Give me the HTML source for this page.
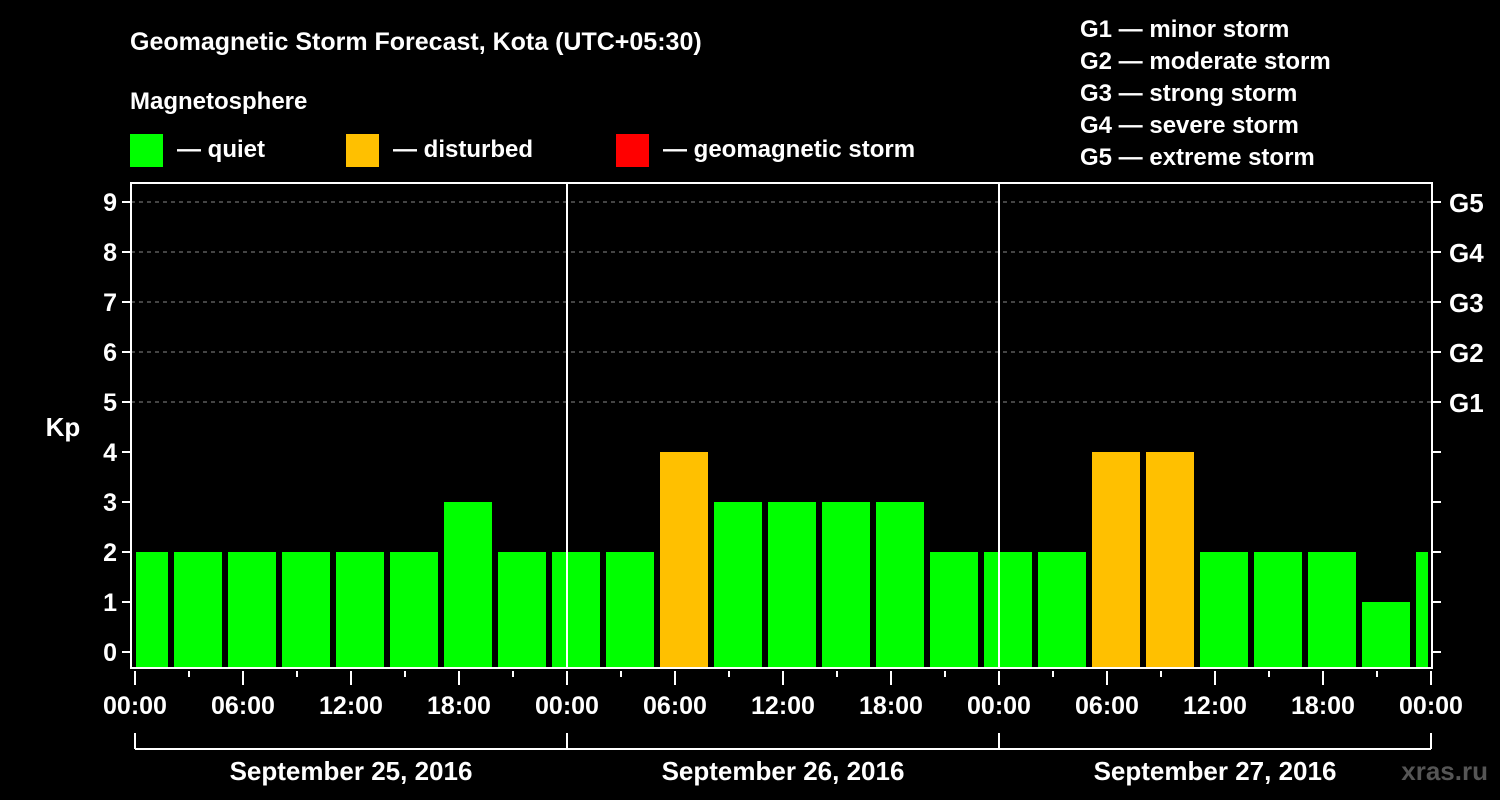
<!DOCTYPE html>
<html><head><meta charset="utf-8"><style>
body{margin:0;background:#000;}
svg{display:block;font-family:"Liberation Sans",Arial,sans-serif;font-weight:bold;}
</style></head><body>
<svg id="c" width="1500" height="800" viewBox="0 0 1500 800">
<rect width="1500" height="800" fill="#000"/>
<text x="130" y="50" fill="#fff" font-size="25">Geomagnetic Storm Forecast, Kota (UTC+05:30)</text>
<text x="130" y="109" fill="#fff" font-size="24">Magnetosphere</text>
<g><rect x="130" y="134" width="33" height="33" fill="#00ff00"/><text x="177" y="157" fill="#fff" font-size="24">— quiet</text></g>
<g><rect x="346" y="134" width="33" height="33" fill="#ffc000"/><text x="393" y="157" fill="#fff" font-size="24">— disturbed</text></g>
<g><rect x="616" y="134" width="33" height="33" fill="#ff0000"/><text x="663" y="157" fill="#fff" font-size="24">— geomagnetic storm</text></g>
<g fill="#fff" font-size="24">
<text x="1080" y="37">G1 — minor storm</text>
<text x="1080" y="69">G2 — moderate storm</text>
<text x="1080" y="101">G3 — strong storm</text>
<text x="1080" y="133">G4 — severe storm</text>
<text x="1080" y="165">G5 — extreme storm</text>
</g>
<text x="63" y="436" fill="#fff" font-size="26" text-anchor="middle">Kp</text>
<g id="plot"></g>
<text x="1488" y="780" fill="#555" font-size="26" text-anchor="end">xras.ru</text>
</svg>
<script>
const values=[2,2,2,2,2,2,3,2,2,2,4,3,3,3,3,2,2,2,4,4,2,2,2,1,2];
const yTicks=[0,1,2,3,4,5,6,7,8,9];
const gLabels=["G1","G2","G3","G4","G5"];
const xLabels=["00:00","06:00","12:00","18:00","00:00","06:00","12:00","18:00","00:00","06:00","12:00","18:00","00:00"];
const dayLabels=["September 25, 2016","September 26, 2016","September 27, 2016"];
const NS="http://www.w3.org/2000/svg";
const L=131,R=1432,T=183,B=668;
const x=h=>135+18*h;
const y=v=>652-50*v;
const g=document.getElementById('plot');
function mk(t,a,p){const e=document.createElementNS(NS,t);for(const k in a)e.setAttribute(k,a[k]);(p||g).appendChild(e);return e;}
// grid 5-9
yTicks.forEach(v=>{if(v>=5){const e=mk('line',{x1:L,x2:R,y1:y(v),y2:y(v),stroke:'#888','stroke-dasharray':'4,4','stroke-width':1});

}});
// bars
const cp=mk('clipPath',{id:'cp'});mk('rect',{x:L+4,y:T,width:R-L-4-3,height:B-T},cp);
values.forEach((v,i)=>{const c=-1+3*i;const x0=Math.max(x(c)+3,L+5),x1=Math.min(x(c+3)-3,R-4);if(x1<=x0)return;
const e=mk('rect',{x:x0,y:y(v),width:x1-x0,height:B-1-y(v),fill:v>=5?'#ff0000':(v>=4?'#ffc000':'#00ff00')});

});
// day separators
[24,48].forEach(h=>{const e=mk('line',{x1:x(h),x2:x(h),y1:T,y2:B,stroke:'#fff','stroke-width':2});

});
// frame
const f=mk('rect',{x:L,y:T,width:R-L,height:B-T,fill:'none',stroke:'#fff','stroke-width':2});


// y ticks
yTicks.forEach(v=>{mk('line',{x1:L-9,x2:L,y1:y(v),y2:y(v),stroke:'#fff','stroke-width':2});mk('line',{x1:R,x2:R+9,y1:y(v),y2:y(v),stroke:'#fff','stroke-width':2});
const t=mk('text',{x:L-14,y:y(v)+9,fill:'#fff','font-size':25,'text-anchor':'end'});t.textContent=v;

});
gLabels.forEach((s,i)=>{const t=mk('text',{x:R+17,y:y(5+i)+10,fill:'#fff','font-size':26});t.textContent=s;

});
// x ticks
for(let h=0;h<=72;h+=3){const maj=h%6===0;mk('line',{x1:x(h),x2:x(h),y1:B+3,y2:B+(maj?17:9),stroke:'#fff','stroke-width':2});}
xLabels.forEach((s,i)=>{const t=mk('text',{x:x(6*i),y:714,fill:'#fff','font-size':25,'text-anchor':'middle'});t.textContent=s;

});
// date brackets
mk('line',{x1:x(0),x2:x(72),y1:749,y2:749,stroke:'#fff','stroke-width':2});
[0,24,48,72].forEach(h=>mk('line',{x1:x(h),x2:x(h),y1:733,y2:749,stroke:'#fff','stroke-width':2}));
dayLabels.forEach((s,i)=>{const t=mk('text',{x:x(24*i+12),y:780,fill:'#fff','font-size':26,'text-anchor':'middle'});t.textContent=s;

});
</script>
</body></html>
